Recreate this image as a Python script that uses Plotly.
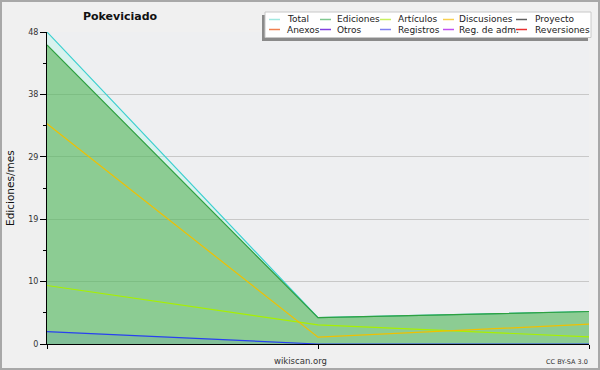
import plotly.graph_objects as go

# ---- data ----
periodos = [1, 2, 3]
total = [48.0, 4.05, 5.0]
ediciones = [46.0, 4.05, 5.0]
articulos = [9.0, 2.95, 1.1]
discusiones = [33.9, 1.05, 3.05]
registros = [1.9, 0.0, 0.0]

ytick_vals = [0, 9.6, 19.2, 28.8, 38.4, 48]
ytick_text = ["0", "10", "19", "29", "38", "48"]

legend_names = [["Total", "Ediciones", "Artículos", "Discusiones", "Proyecto"],
                ["Anexos", "Otros", "Registros", "Reg. de adm.", "Reversiones"]]
legend_colors = [["#a0e8e0", "#80c890", "#c8f060", "#f8d050", "#606060"],
                 ["#f08050", "#8040e0", "#8080f0", "#c050f0", "#e83030"]]

W, H = 600, 370
L, R, T, B = 47, 11, 32, 26
PW, PH = W - L - R, H - T - B
FONT = "DejaVu Sans"


def xp(px):
    return (px - L) / PW


def yp(py):
    return (H - B - py) / PH


fig = go.Figure()
fig.add_trace(go.Scatter(x=periodos, y=total, mode="lines", fill="tozeroy",
                         fillcolor="rgba(160,250,230,0.27)",
                         line=dict(color="#3cd0d0", width=1.2), showlegend=False))
fig.add_trace(go.Scatter(x=periodos, y=ediciones, mode="lines", fill="tozeroy",
                         fillcolor="rgba(64,166,56,0.5)",
                         line=dict(color="#2ea040", width=1.2), showlegend=False))
fig.add_trace(go.Scatter(x=periodos, y=registros, mode="lines", fill="tozeroy",
                         fillcolor="rgba(40,80,200,0.10)",
                         line=dict(color="#2840f0", width=1.2), showlegend=False))
fig.add_trace(go.Scatter(x=periodos, y=articulos, mode="lines",
                         line=dict(color="#a8f000", width=1.2), showlegend=False))
fig.add_trace(go.Scatter(x=periodos, y=discusiones, mode="lines",
                         line=dict(color="#f0c000", width=1.2), showlegend=False))

shapes = []
annotations = []

# outer border
shapes.append(dict(type="rect", xref="paper", yref="paper",
                   x0=xp(1), x1=xp(599), y0=yp(1), y1=yp(369),
                   line=dict(color="#a8a8a8", width=2), fillcolor="rgba(0,0,0,0)", layer="above"))

# legend box + shadow
shapes.append(dict(type="rect", xref="paper", yref="paper",
                   x0=xp(262), x1=xp(588), y0=yp(15), y1=yp(41),
                   line=dict(width=0), fillcolor="#8a8a8a", layer="above"))
shapes.append(dict(type="rect", xref="paper", yref="paper",
                   x0=xp(265), x1=xp(591), y0=yp(12), y1=yp(37.5),
                   line=dict(color="#c8c8c8", width=1), fillcolor="#ffffff", layer="above"))

col_line_x = [269, 320, 380, 443, 516]
col_text_x = [285, 335, 396, 457, 533]
row_y = [19.5, 29.5]
for r in range(2):
    for c in range(5):
        shapes.append(dict(type="line", xref="paper", yref="paper",
                           x0=xp(col_line_x[c]), x1=xp(col_line_x[c] + 11),
                           y0=yp(row_y[r]), y1=yp(row_y[r]),
                           line=dict(color=legend_colors[r][c], width=1.5), layer="above"))
        annotations.append(dict(text=legend_names[r][c], xref="paper", yref="paper",
                                x=xp(col_text_x[c]), y=yp(row_y[r]),
                                xanchor="left", yanchor="middle", showarrow=False,
                                font=dict(family=FONT, size=9, color="#222222")))

# axis title
annotations.append(dict(text="Ediciones/mes", xref="paper", yref="paper",
                        x=xp(10), y=yp(188), textangle=-90, showarrow=False,
                        xanchor="center", yanchor="middle",
                        font=dict(family=FONT, size=10.5, color="#111111")))
# footer
annotations.append(dict(text="wikiscan.org", xref="paper", yref="paper",
                        x=xp(300), y=yp(361), showarrow=False,
                        xanchor="center", yanchor="middle",
                        font=dict(family=FONT, size=8.5, color="#333333")))
annotations.append(dict(text="CC BY-SA 3.0", xref="paper", yref="paper",
                        x=xp(590), y=yp(362), showarrow=False,
                        xanchor="right", yanchor="middle",
                        font=dict(family=FONT, size=6.5, color="#333333")))

fig.update_layout(
    width=W, height=H,
    margin=dict(l=L, r=R, t=T, b=B, pad=0),
    paper_bgcolor="#f0f0f0",
    plot_bgcolor="#eeeff1",
    title=dict(text="<b>Pokeviciado</b>", x=120 / W, y=1 - 16 / H,
               xref="container", yref="container", xanchor="center", yanchor="middle",
               font=dict(family=FONT, size=11, color="#111111")),
    shapes=shapes,
    annotations=annotations,
    xaxis=dict(range=[1, 3], tickvals=[1, 2, 3], ticktext=["", "", ""],
               showgrid=False, zeroline=False, showline=True, linecolor="#000000",
               linewidth=1, ticks="outside", ticklen=4, tickcolor="#000000", fixedrange=True),
    yaxis=dict(range=[0, 48], tickvals=ytick_vals, ticktext=ytick_text,
               showgrid=True, gridcolor="#c8c8c8", gridwidth=1, zeroline=False,
               showline=True, linecolor="#000000", linewidth=1,
               ticks="outside", ticklen=6, tickcolor="#000000",
               minor=dict(tickmode="linear", tick0=0, dtick=4.8, ticks="outside",
                          ticklen=3, tickcolor="#000000", showgrid=False),
               tickfont=dict(family=FONT, size=8, color="#333333"), fixedrange=True),
)

fig.write_html("out.html", config={"displayModeBar": False})
